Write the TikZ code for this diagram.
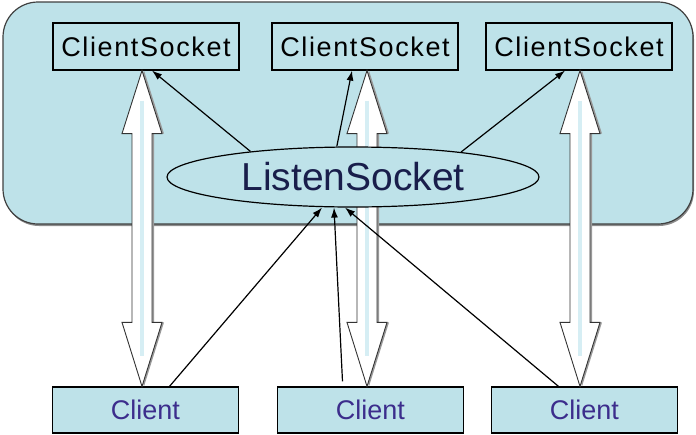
\documentclass[tikz,border=0pt]{standalone}
\usepackage{fontspec}
\setmainfont{Liberation Sans}
\usetikzlibrary{shapes.geometric,calc,shadows,arrows.meta}

\definecolor{boxblue}{RGB}{190,226,233}
\definecolor{stripeblue}{RGB}{214,238,244}
\definecolor{clienttext}{RGB}{60,45,140}
\definecolor{listentext}{RGB}{25,30,75}

\begin{document}
\begin{tikzpicture}[x=1pt, y=-1pt,
    host/.style={draw=black!75, fill=boxblue, rounded corners=35pt, line width=1.2pt,
        minimum width=690pt, minimum height=222pt,
        drop shadow={shadow xshift=1pt, shadow yshift=-2pt, fill=black!45, opacity=1}},
    sockbox/.style={draw, fill=boxblue, line width=1.2pt, minimum width=186pt,
        minimum height=47pt, inner sep=0pt,
        font=\fontsize{27}{30}\selectfont\addfontfeature{LetterSpace=6}},
    clientbox/.style={sockbox, minimum height=46pt, text=clienttext,
        font=\fontsize{27}{30}\selectfont},
    listen/.style={ellipse, draw, fill=boxblue, line width=1.2pt, minimum width=372pt,
        minimum height=60pt, inner sep=0pt, text=listentext,
        font=\fontsize{39}{42}\selectfont},
    fat/.style={draw=black!80, fill=white, line width=0.9pt,
        drop shadow={shadow xshift=2pt, shadow yshift=0pt, fill=black!40, opacity=1}},
    link/.style={-{Latex[length=10pt,width=7pt]}, line width=1.2pt}
]
    \useasboundingbox (0,0) rectangle (696,434);

    % Define nodes
    \node[host] (host) at (348,113) {};
    \node[sockbox] (cs1) at (146,46.5) {ClientSocket};
    \node[sockbox] (cs2) at (365,46.5) {ClientSocket};
    \node[sockbox] (cs3) at (579,46.5) {ClientSocket};
    \node[clientbox] (cl1) at (145.5,410) {Client};
    \node[clientbox] (cl2) at (370.5,410) {Client};
    \node[clientbox] (cl3) at (584.5,410) {Client};

    % Draw double arrows
    \foreach \x/\t/\b in {142/cs1/cl1, 367/cs2/cl2, 580/cs3/cl3} {
        \coordinate (top) at (\t.south -| \x,0);
        \coordinate (bot) at (\b.north -| \x,0);
        \draw[fat] (top) -- ++(20,63) -- ++(-10,0) -- ($(bot)+(10,-64)$) -- ++(10,0)
            -- (bot) -- ++(-20,-64) -- ++(10,0) -- ($(top)+(-10,63)$) -- ++(-10,0) -- cycle;
        \draw[stripeblue, line width=4pt] ($(top)+(0,30)$) -- ($(bot)+(0,-30)$);
    }

    \node[listen] (ls) at (353,177) {ListenSocket};

    % Draw arrows
    \draw[link] (ls.166) -- ($(cs1.south)+(6,0)$);
    \draw[link] (ls.118) -- ($(cs2.south)+(-13,0)$);
    \draw[link] (ls.13) -- ($(cs3.south)+(-14,0)$);
    \draw[link] ($(cl1.north)+(24,0)$) -- ($(ls.south)+(-31,0)$);
    \draw[link] ($(cl2.north)+(-28,-5)$) -- ($(ls.south)+(-19,0)$);
    \draw[link] ($(cl3.north)+(-26,0)$) -- ($(ls.south)+(-8,0)$);
\end{tikzpicture}
\end{document}
